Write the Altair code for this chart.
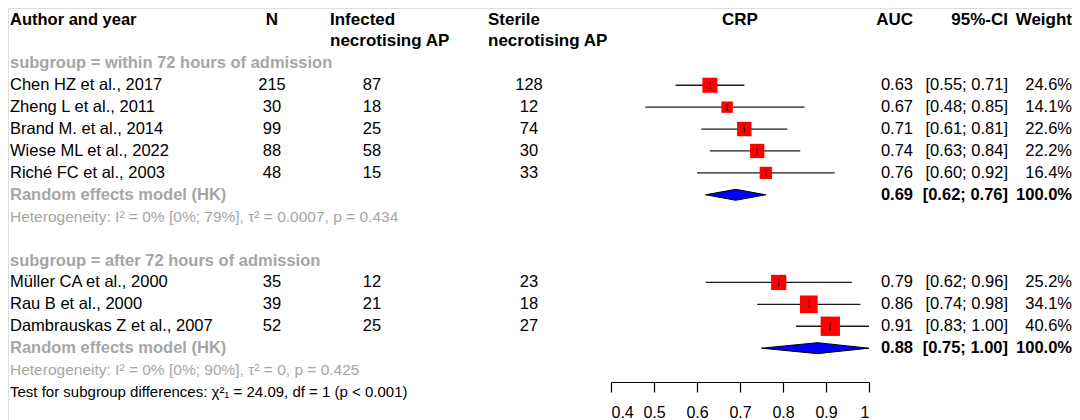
import altair as alt
import pandas as pd

FONT = "Liberation Sans, Arial, sans-serif"
GRAY = "#a6a6a6"

# ---------------- data ----------------
subgroups = ["within 72 hours of admission", "after 72 hours of admission"]
group_sizes = [5, 3]
studies = ["Chen HZ et al., 2017", "Zheng L et al., 2011", "Brand M. et al., 2014",
           "Wiese ML et al., 2022", "Riché FC et al., 2003",
           "Müller CA et al., 2000", "Rau B et al., 2000", "Dambrauskas Z et al., 2007"]
n_total = [215, 30, 99, 88, 48, 35, 39, 52]
infected = [87, 18, 25, 58, 15, 12, 21, 25]
sterile = [128, 12, 74, 30, 33, 23, 18, 27]
auc = [0.63, 0.67, 0.71, 0.74, 0.76, 0.79, 0.86, 0.91]
ci_lo = [0.55, 0.48, 0.61, 0.63, 0.60, 0.62, 0.74, 0.83]
ci_hi = [0.71, 0.85, 0.81, 0.84, 0.92, 0.96, 0.98, 1.00]
weight = [24.6, 14.1, 22.6, 22.2, 16.4, 25.2, 34.1, 40.6]

re_auc = [0.69, 0.88]
re_lo = [0.62, 0.75]
re_hi = [0.76, 1.00]
heterogeneity = ["Heterogeneity: I² = 0% [0%; 79%], τ² = 0.0007, p = 0.434",
                 "Heterogeneity: I² = 0% [0%; 90%], τ² = 0, p = 0.425"]
test_text = "Test for subgroup differences: χ²₁ = 24.09, df = 1 (p < 0.001)"
axis_ticks = [0.4, 0.5, 0.6, 0.7, 0.8, 0.9, 1.0]

# ---------------- row layout ----------------
study_rows, sub_rows, re_rows, het_rows = [], [], [], []
r = -1
for n in group_sizes:
    sub_rows.append(r)
    study_rows += list(range(r + 1, r + 1 + n))
    re_rows.append(r + n + 1)
    het_rows.append(r + n + 2)
    r += n + 4
test_row = het_rows[-1] + 1

df_s = pd.DataFrame({
    "row": study_rows, "name": studies, "n": [str(v) for v in n_total],
    "inf": [str(v) for v in infected], "ster": [str(v) for v in sterile],
    "auc": auc, "lo": ci_lo, "hi": ci_hi, "w": weight,
    "auc_t": [f"{v:.2f}" for v in auc],
    "ci_t": [f"[{a:.2f}; {b:.2f}]" for a, b in zip(ci_lo, ci_hi)],
    "w_t": [f"{v:.1f}%" for v in weight],
})
df_sub = pd.DataFrame({"row": sub_rows, "t": [f"subgroup = {s}" for s in subgroups]})
df_re = pd.DataFrame({
    "row": re_rows, "t": ["Random effects model (HK)"] * 2,
    "auc_t": [f"{v:.2f}" for v in re_auc],
    "ci_t": [f"[{a:.2f}; {b:.2f}]" for a, b in zip(re_lo, re_hi)],
    "w_t": ["100.0%"] * 2,
})
df_het = pd.DataFrame({"row": het_rows, "t": heterogeneity})
df_test = pd.DataFrame({"row": [test_row], "t": [test_text]})

half = 0.25
dia = []
for g, (rr, e, a, b) in enumerate(zip(re_rows, re_auc, re_lo, re_hi)):
    dia += [{"g": g, "x": a, "y": rr, "y2": rr},
            {"g": g, "x": e, "y": rr - half, "y2": rr + half},
            {"g": g, "x": b, "y": rr, "y2": rr}]
df_dia = pd.DataFrame(dia)

df_h1 = pd.DataFrame({"row": [-3]})
df_h2 = pd.DataFrame({"row": [-2]})

# ---------------- scales ----------------
xscale = alt.Scale(domain=[0.4, 1.0], range=[603, 861], nice=False, zero=False)
yscale = alt.Scale(domain=[-3, 14], range=[11.5, 384], nice=False, zero=False)
xaxis = alt.Axis(values=axis_ticks, offset=-38, tickSize=10, domainColor="black",
                 tickColor="black", domainWidth=1.2, tickWidth=1.2, grid=False,
                 labelFont=FONT, labelFontSize=16, labelColor="black", labelPadding=12,
                 labelExpr="datum.value == 1 ? '1' : format(datum.value, '.1f')",
                 title=None)


def Y(field="row"):
    return alt.Y(f"{field}:Q", scale=yscale, axis=None)


def X(field):
    return alt.X(f"{field}:Q", scale=xscale, axis=xaxis)


def text_layer(df, field, px, align="left", size=16.5, weight="normal", color="black"):
    return alt.Chart(df).mark_text(
        align=align, baseline="middle", font=FONT, fontSize=size,
        fontWeight=weight, color=color
    ).encode(x=alt.value(px), y=Y(), text=f"{field}:N")


def const_text(df, txt, px, align="left", size=16.5, weight="bold", color="black"):
    return alt.Chart(df).mark_text(
        align=align, baseline="middle", font=FONT, fontSize=size,
        fontWeight=weight, color=color, text=txt
    ).encode(x=alt.value(px), y=Y())


# ---------------- forest layers ----------------
ci = alt.Chart(df_s).mark_rule(color="#1a1a1a", strokeWidth=1.3).encode(
    x=X("lo"), x2="hi:Q", y=Y())
sq = alt.Chart(df_s).mark_square(color="#ff0000", opacity=1, strokeWidth=0).encode(
    x=X("auc"), y=Y(),
    size=alt.Size("w:Q", scale=alt.Scale(domain=[0, 50], range=[0, 460]), legend=None))
tk = alt.Chart(df_s).mark_tick(orient="vertical", color="black", size=7, thickness=1.3).encode(
    x=X("auc"), y=Y())
dm = alt.Chart(df_dia).mark_area(fill="#0000ff", stroke="black", strokeWidth=1,
                                 opacity=1, fillOpacity=1).encode(
    x=X("x"), y=Y("y"), y2="y2:Q", detail="g:N")

layers = [ci, sq, tk, dm]

# headers
layers += [
    const_text(df_h1, "Author and year", 2, size=16.5),
    const_text(df_h1, "N", 264, align="center", size=17),
    const_text(df_h1, "Infected", 322, size=17),
    const_text(df_h2, "necrotising AP", 322, size=17),
    const_text(df_h1, "Sterile", 480, size=17),
    const_text(df_h2, "necrotising AP", 480, size=17),
    const_text(df_h1, "CRP", 732, align="center", size=17),
    const_text(df_h1, "AUC", 905, align="right", size=17),
    const_text(df_h1, "95%-CI", 1000, align="right", size=17),
    const_text(df_h1, "Weight", 1064, align="right", size=17),
]
# study rows
layers += [
    text_layer(df_s, "name", 2),
    text_layer(df_s, "n", 264, align="center"),
    text_layer(df_s, "inf", 364, align="center"),
    text_layer(df_s, "ster", 521, align="center"),
    text_layer(df_s, "auc_t", 905, align="right"),
    text_layer(df_s, "ci_t", 1000, align="right"),
    text_layer(df_s, "w_t", 1064, align="right"),
]
# subgroup, RE, heterogeneity, test
layers += [
    text_layer(df_sub, "t", 2, weight="bold", color=GRAY),
    text_layer(df_re, "t", 2, weight="bold", color=GRAY),
    text_layer(df_re, "auc_t", 905, align="right", weight="bold"),
    text_layer(df_re, "ci_t", 1000, align="right", weight="bold"),
    text_layer(df_re, "w_t", 1064, align="right", weight="bold"),
    text_layer(df_het, "t", 2, size=15.5, color=GRAY),
    text_layer(df_test, "t", 2, size=15),
]

chart = alt.layer(*layers).properties(
    width=1064, height=412, padding=0, autosize=alt.AutoSizeParams(type="none")
).configure_view(stroke=None).configure(background="white")

chart.save("out.html", embed_options={"renderer": "svg", "actions": False})
